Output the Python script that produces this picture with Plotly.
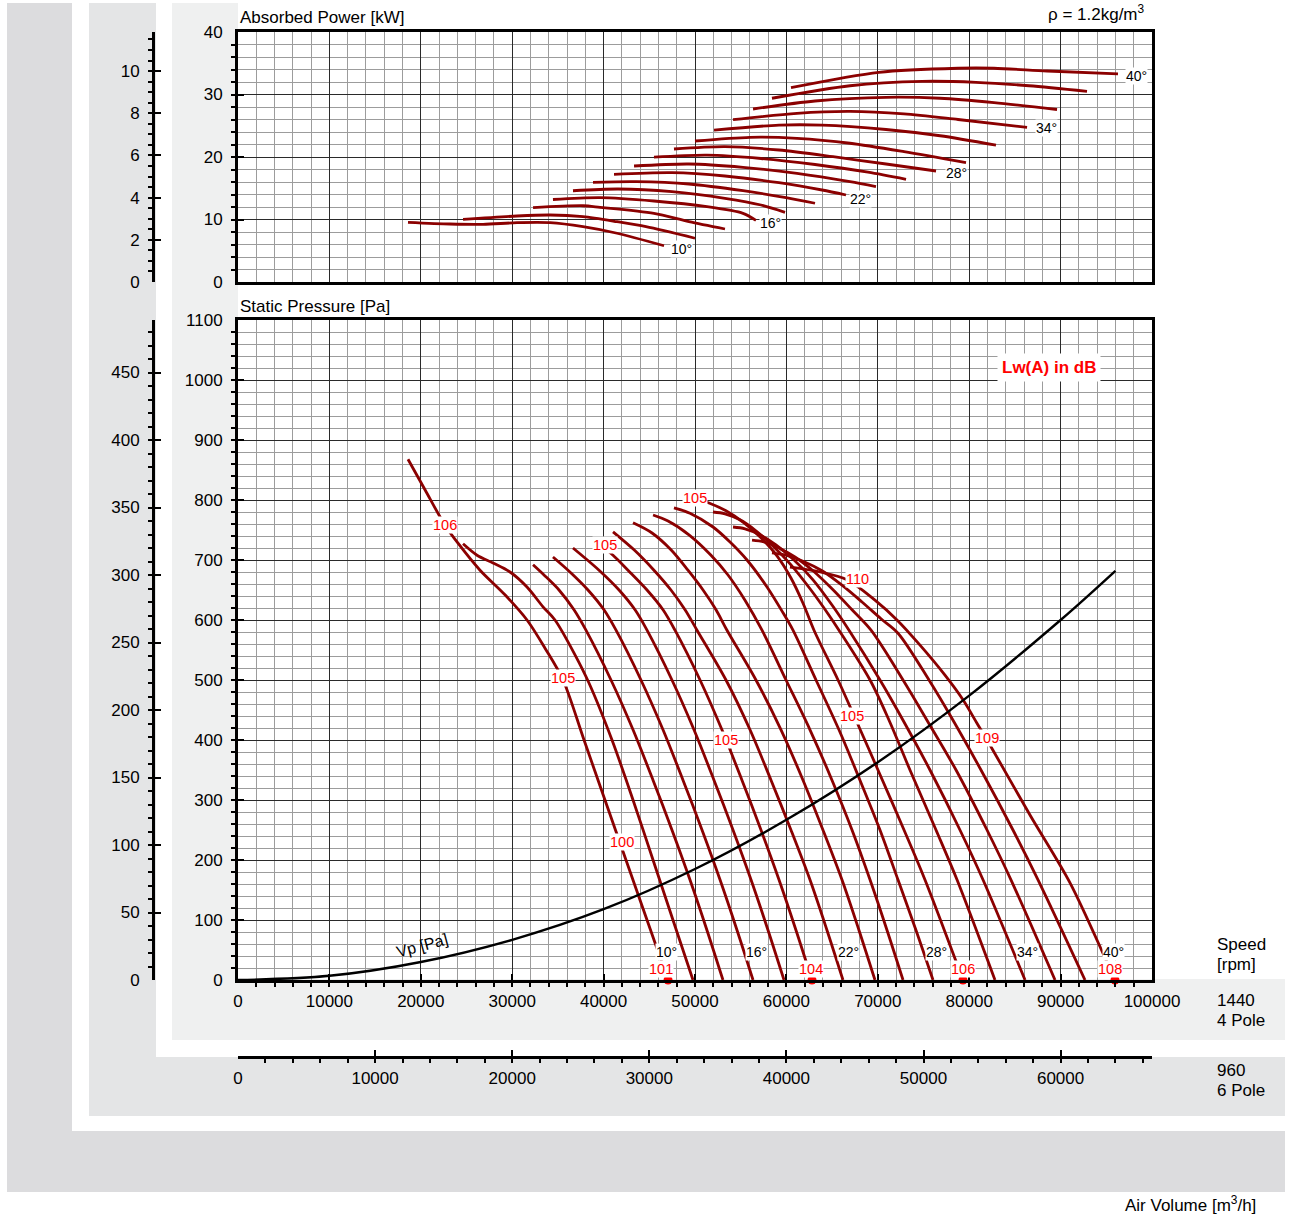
import plotly.graph_objects as go

# ---------------- data ----------------
angles = [10, 12, 14, 16, 18, 20, 22, 24, 26, 28, 30, 32, 34, 36, 38, 40]

# static pressure curves at 1440 rpm: air volume [m3/h], static pressure [Pa]
q10 = [18600, 20460, 22650, 24070, 26480, 29210, 31620, 33590, 35560, 37860, 40150, 42450, 44750, 47050]
p10 = [868, 817, 758, 728, 683, 642, 600, 553, 500, 400, 300, 200, 100, 0]
q12 = [24620, 26150, 27900, 29760, 31620, 33370, 34680, 36870, 38400, 40920, 43220, 45410, 47590, 49780]
p12 = [727, 708, 695, 680, 655, 622, 600, 542, 495, 400, 300, 200, 100, 0]
q14 = [32280, 33480, 35120, 36760, 38070, 40810, 43220, 45410, 47480, 49450, 51310, 53060]
p14 = [692, 675, 650, 617, 583, 500, 417, 333, 250, 167, 83, 0]
q16 = [34460, 36320, 38290, 40040, 41360, 44090, 46500, 48690, 50770, 52740, 54600, 56350]
p16 = [705, 680, 650, 617, 583, 500, 417, 333, 250, 167, 83, 0]
q18 = [36650, 39500, 41690, 43440, 44750, 47480, 49890, 52080, 54160, 56130, 57990, 59740]
p18 = [720, 683, 650, 617, 583, 500, 417, 333, 250, 167, 83, 0]
q20 = [38950, 41030, 42670, 44750, 46500, 47810, 50550, 52950, 55140, 57220, 59190, 61050, 62800]
p20 = [733, 708, 683, 650, 617, 583, 500, 417, 333, 250, 167, 83, 0]
q22 = [41030, 43330, 45510, 47370, 48910, 50220, 53390, 56020, 58320, 60500, 62580, 64440, 66190]
p22 = [747, 717, 683, 650, 617, 583, 500, 417, 333, 250, 167, 83, 0]
q24 = [43220, 45300, 47370, 49230, 50880, 52300, 53500, 56670, 59410, 61820, 64000, 66080, 67940, 69690]
p24 = [762, 745, 717, 683, 650, 617, 583, 500, 417, 333, 250, 167, 83, 0]
q26 = [45410, 47050, 49340, 51750, 53610, 55470, 57330, 59960, 62580, 64990, 67180, 69150, 71010, 72760]
p26 = [775, 765, 742, 708, 675, 633, 583, 500, 417, 333, 250, 167, 83, 0]
q28 = [47700, 49450, 51970, 53830, 55690, 57880, 59630, 60720, 63240, 65750, 68050, 70240, 72210, 74180, 76040]
p28 = [787, 778, 755, 730, 700, 655, 612, 583, 500, 417, 333, 250, 167, 83, 0]
q30 = [50110, 51530, 53390, 55360, 57220, 58970, 60500, 61820, 63020, 65650, 67620, 70020, 72870, 75160, 79320]
p30 = [802, 795, 782, 762, 737, 707, 670, 628, 583, 500, 433, 350, 250, 167, 0]
q32 = [51970, 53280, 54920, 56560, 58420, 60500, 62690, 64660, 65750, 69150, 71230, 73520, 76370, 78670, 82820]
p32 = [780, 777, 767, 750, 725, 692, 650, 608, 583, 500, 433, 350, 250, 167, 0]
q34 = [54160, 55470, 57110, 58860, 60830, 62910, 64990, 66850, 70240, 72760, 75710, 78990, 81510, 86110]
p34 = [755, 752, 742, 725, 700, 667, 625, 583, 500, 433, 350, 250, 167, 0]
q36 = [56240, 57550, 59190, 60940, 62910, 64990, 67180, 69260, 72760, 75380, 78560, 81950, 84570, 89390]
p36 = [733, 730, 720, 705, 682, 652, 617, 583, 500, 433, 350, 250, 167, 0]
q38 = [58420, 59960, 61820, 63900, 66080, 68270, 70350, 72210, 75600, 78230, 81290, 84790, 87530, 92670]
p38 = [712, 708, 698, 682, 658, 630, 602, 578, 500, 433, 350, 250, 167, 0]
q40 = [60390, 63680, 66630, 69690, 72100, 74620, 77350, 79320, 80850, 82600, 86650, 91030, 94860, 95950]
p40 = [688, 680, 667, 633, 600, 558, 508, 467, 428, 383, 275, 162, 37, 0]

# absorbed power curves at 1440 rpm: air volume [m3/h], power [kW]
wq10 = [18600, 23190, 26810, 30530, 34140, 37750, 41470, 46610]
w10 = [9.55, 9.28, 9.23, 9.49, 9.49, 8.85, 7.8, 5.8]
wq12 = [24620, 30530, 34140, 37750, 41470, 44640, 50000]
w12 = [10.03, 10.56, 10.72, 10.45, 9.65, 8.85, 7.0]
wq14 = [32280, 37750, 39610, 45510, 49340, 53280]
w14 = [11.9, 12.2, 11.95, 10.99, 9.65, 8.48]
wq16 = [34460, 39610, 45510, 51310, 55250, 56670]
w16 = [13.2, 13.5, 12.96, 12.05, 10.99, 9.87]
wq18 = [36650, 41580, 47480, 53280, 57220, 59850]
w18 = [14.6, 14.88, 14.45, 13.39, 12.32, 11.15]
wq20 = [38840, 43540, 49340, 55250, 59960, 63130]
w20 = [15.95, 16.05, 15.68, 14.61, 13.49, 12.6]
wq22 = [41140, 47480, 53280, 59190, 63900, 66520]
w22 = [17.23, 17.49, 16.96, 15.89, 14.72, 13.92]
wq24 = [43330, 49340, 55250, 61160, 66960, 69800]
w24 = [18.56, 18.88, 18.35, 17.39, 16.05, 15.25]
wq26 = [45510, 51310, 57220, 63130, 68930, 73090]
w26 = [19.97, 20.29, 19.76, 18.8, 17.57, 16.43]
wq28 = [47700, 53280, 59190, 65100, 70900, 76370]
w28 = [21.28, 21.65, 21.12, 20.05, 18.88, 17.76]
wq30 = [50000, 56020, 61160, 66960, 72870, 79650]
w30 = [22.56, 23.15, 22.99, 22.2, 20.85, 19.1]
wq32 = [52080, 59190, 63900, 70900, 76810, 82930]
w32 = [24.3, 25.1, 25.1, 24.4, 23.4, 21.9]
wq34 = [54160, 61160, 66960, 72870, 78780, 86330]
w34 = [25.97, 26.99, 27.3, 26.9, 26.0, 24.75]
wq36 = [56350, 63130, 70900, 76810, 82710, 89610]
w36 = [27.68, 28.96, 29.55, 29.4, 28.7, 27.6]
wq38 = [58420, 66960, 74840, 80740, 86540, 92890]
w38 = [29.4, 31.4, 32.1, 31.95, 31.4, 30.5]
wq40 = [60500, 70130, 78780, 82710, 88510, 96280]
w40 = [31.1, 33.55, 34.2, 34.2, 33.76, 33.3]

# dynamic pressure curve
vp_q = [0, 10000, 20000, 30000, 40000, 50000, 60000, 70000, 80000, 90000, 96000]
vp_p = [0, 7, 30, 67, 118, 185, 267, 363, 474, 600, 682]

# sound power labels Lw(A) [dB]
db_text = ["106", "105", "100", "101", "105", "105", "105", "104", "105", "110", "106", "109", "108"]
db_q = [22650, 35560, 42010, 46280, 40150, 50000, 53390, 62690, 67180, 67830, 79320, 81950, 95400]
db_p = [758, 503, 230, 18, 725, 803, 400, 18, 440, 668, 18, 403, 18]
dot_q = [47050, 62800, 79320, 95950]
dot_p = [0, 0, 0, 0]

# blade angle labels
ang_text = ["10°", "16°", "22°", "28°", "34°", "40°"]
ang_q_p = [46830, 56780, 66740, 76370, 86330, 95840]
ang_p = [47, 47, 47, 47, 47, 47]
ang_q_w = [48470, 58210, 68160, 78560, 88460, 98330]
ang_w = [5.28, 9.44, 13.28, 17.44, 24.64, 32.96]

# speeds / axis extents
speed_4p = 1440
speed_6p = 960
x_max = 100000
p_max = 1100
w_max = 40

pressure_curves = [(q10, p10), (q12, p12), (q14, p14), (q16, p16), (q18, p18), (q20, p20),
                   (q22, p22), (q24, p24), (q26, p26), (q28, p28), (q30, p30), (q32, p32),
                   (q34, p34), (q36, p36), (q38, p38), (q40, p40)]
power_curves = [(wq10, w10), (wq12, w12), (wq14, w14), (wq16, w16), (wq18, w18), (wq20, w20),
                (wq22, w22), (wq24, w24), (wq26, w26), (wq28, w28), (wq30, w30), (wq32, w32),
                (wq34, w34), (wq36, w36), (wq38, w38), (wq40, w40)]

# ---------------- layout helpers ----------------
W, H = 1291, 1214
def fx(px):
    return px / W
def fy(py):
    return 1 - py / H

FONT = "Liberation Sans, Arial, sans-serif"
RED_LINE = "#8b0000"
ratio = speed_6p / speed_4p
FS = 17

fig = go.Figure()

for q, p in pressure_curves:
    fig.add_trace(go.Scatter(x=q, y=p, mode="lines", xaxis="x", yaxis="y",
                             line=dict(color=RED_LINE, width=2.8, shape="spline", smoothing=0.9),
                             hoverinfo="skip", showlegend=False))
for q, w in power_curves:
    fig.add_trace(go.Scatter(x=q, y=w, mode="lines", xaxis="x2", yaxis="y2",
                             line=dict(color=RED_LINE, width=2.8, shape="spline", smoothing=0.8),
                             hoverinfo="skip", showlegend=False))
fig.add_trace(go.Scatter(x=vp_q, y=vp_p, mode="lines", xaxis="x", yaxis="y",
                         line=dict(color="black", width=2.4, shape="spline"),
                         hoverinfo="skip", showlegend=False))
fig.add_trace(go.Scatter(x=dot_q, y=dot_p, mode="markers", xaxis="x", yaxis="y",
                         marker=dict(color="#ff0000", size=9), cliponaxis=False,
                         hoverinfo="skip", showlegend=False))
# invisible traces so the secondary (960 rpm) axes are rendered
fig.add_trace(go.Scatter(x=[50000], y=[5], xaxis="x2", yaxis="y3", mode="markers",
                         marker=dict(opacity=0), hoverinfo="skip", showlegend=False))
fig.add_trace(go.Scatter(x=[50000], y=[100], xaxis="x", yaxis="y4", mode="markers",
                         marker=dict(opacity=0), hoverinfo="skip", showlegend=False))
fig.add_trace(go.Scatter(x=[30000], y=[100], xaxis="x3", yaxis="y", mode="markers",
                         marker=dict(opacity=0), hoverinfo="skip", showlegend=False))

tickfont = dict(family=FONT, size=FS, color="black")
xdom = [fx(238), fx(1152)]
major_grid = "#2a2a2a"
minor_grid = "#9c9c9c"

fig.update_layout(
    width=W, height=H, autosize=False,
    margin=dict(l=0, r=0, t=0, b=0, pad=0, autoexpand=False),
    paper_bgcolor="white", plot_bgcolor="white",
    font=dict(family=FONT, size=FS, color="black"),
    showlegend=False,
    xaxis=dict(domain=xdom, anchor="y", range=[0, x_max], dtick=10000, tick0=0, tickformat="d",
               automargin=False,
               showgrid=True, gridcolor=major_grid, gridwidth=1, zeroline=False,
               showline=True, linecolor="black", linewidth=3, mirror=True,
               ticks="inside", ticklen=6, tickwidth=2, tickcolor="black", tickfont=tickfont,
               ticklabelstandoff=4,
               minor=dict(dtick=2000, ticks="outside", ticklen=4, tickwidth=2, tickcolor="black",
                          showgrid=True, gridcolor=minor_grid, gridwidth=1)),
    yaxis=dict(domain=[fy(980), fy(320)], anchor="x", range=[0, p_max], dtick=100, tick0=0,
               automargin=False,
               showgrid=True, gridcolor=major_grid, gridwidth=1, zeroline=False,
               showline=True, linecolor="black", linewidth=3, mirror=True,
               ticks="inside", ticklen=6, tickwidth=2, tickcolor="black", tickfont=tickfont,
               ticklabelstandoff=9,
               minor=dict(dtick=20, ticks="outside", ticklen=4, tickwidth=2, tickcolor="black",
                          showgrid=True, gridcolor=minor_grid, gridwidth=1)),
    xaxis2=dict(domain=xdom, anchor="y2", range=[0, x_max], dtick=10000, tick0=0,
                automargin=False, showticklabels=False, ticks="",
                showgrid=True, gridcolor=major_grid, gridwidth=1, zeroline=False,
                showline=True, linecolor="black", linewidth=3, mirror=True,
                minor=dict(dtick=2000, showgrid=True, gridcolor=minor_grid, gridwidth=1)),
    yaxis2=dict(domain=[fy(282), fy(32)], anchor="x2", range=[0, w_max], dtick=10, tick0=0,
                automargin=False,
                showgrid=True, gridcolor=major_grid, gridwidth=1, zeroline=False,
                showline=True, linecolor="black", linewidth=3, mirror=True,
                ticks="inside", ticklen=6, tickwidth=2, tickcolor="black", tickfont=tickfont,
                ticklabelstandoff=9,
                minor=dict(dtick=2, ticks="outside", ticklen=4, tickwidth=2, tickcolor="black",
                           showgrid=True, gridcolor=minor_grid, gridwidth=1)),
    yaxis3=dict(overlaying="y2", anchor="free", position=fx(153), side="left",
                automargin=False,
                range=[0, w_max * ratio ** 3], dtick=2, tick0=0, showgrid=False, zeroline=False,
                showline=True, linecolor="black", linewidth=3,
                ticks="inside", ticklen=6, tickwidth=2, tickcolor="black", tickfont=tickfont,
                ticklabelstandoff=9,
                minor=dict(dtick=0.5, ticks="outside", ticklen=4, tickwidth=2, tickcolor="black",
                           showgrid=False)),
    yaxis4=dict(overlaying="y", anchor="free", position=fx(153), side="left",
                automargin=False,
                range=[0, p_max * ratio ** 2], dtick=50, tick0=0, showgrid=False, zeroline=False,
                showline=True, linecolor="black", linewidth=3,
                ticks="inside", ticklen=6, tickwidth=2, tickcolor="black", tickfont=tickfont,
                ticklabelstandoff=9,
                minor=dict(dtick=10, ticks="outside", ticklen=4, tickwidth=2, tickcolor="black",
                           showgrid=False)),
    xaxis3=dict(overlaying="x", anchor="free", position=fy(1057), side="bottom",
                automargin=False,
                range=[0, x_max * ratio], dtick=10000, tick0=0, tickformat="d",
                showgrid=False, zeroline=False,
                showline=True, linecolor="black", linewidth=3,
                ticks="inside", ticklen=6, tickwidth=2, tickcolor="black", tickfont=tickfont,
                ticklabelstandoff=5,
                minor=dict(dtick=2000, ticks="outside", ticklen=4, tickwidth=2, tickcolor="black",
                           showgrid=False)),
)

# ---------------- background panels ----------------
def rect(x0, y0, x1, y1, color):
    return dict(type="rect", xref="paper", yref="paper", layer="below",
                x0=fx(x0), x1=fx(x1), y0=fy(y1), y1=fy(y0),
                fillcolor=color, line=dict(width=0))

fig.update_layout(shapes=[
    rect(7, 3, 1285, 1192, "#dcdcde"),
    rect(72, 0, 1291, 1131, "white"),
    rect(89, 3, 1285, 1116, "#e4e5e6"),
    rect(156, 0, 1291, 1057, "white"),
    rect(172, 3, 1285, 1040, "#eff0f0"),
    rect(238, 0, 1291, 979, "white"),
])

ann = []
def ptext(px, py_, text, xanchor="left", size=FS, color="black", **kw):
    ann.append(dict(xref="paper", yref="paper", x=fx(px), y=fy(py_), text=text, showarrow=False,
                    xanchor=xanchor, yanchor="middle", align="left",
                    font=dict(family=FONT, size=size, color=color), **kw))

ptext(238, 18, "Absorbed Power [kW]")
ptext(1147, 13, "ρ = 1.2kg/m<sup>3</sup>", xanchor="right")
ptext(238, 306, "Static Pressure [Pa]")
ptext(1049, 367, "<b>Lw(A) in dB</b>", xanchor="center", color="#ff0000",
      bgcolor="white", borderpad=4)
ptext(1215, 944, "Speed")
ptext(1215, 964, "[rpm]")
ptext(1215, 1000, "1440")
ptext(1215, 1020, "4 Pole")
ptext(1215, 1070, "960")
ptext(1215, 1090, "6 Pole")
ptext(1258, 1204, "Air Volume [m<sup>3</sup>/h]", xanchor="right")

for t, q, p in zip(db_text, db_q, db_p):
    ann.append(dict(xref="x", yref="y", x=q, y=p, text=t, showarrow=False,
                    font=dict(family=FONT, size=14.5, color="#ff0000"),
                    bgcolor="white", borderpad=0))
for t, q, p in zip(ang_text, ang_q_p, ang_p):
    ann.append(dict(xref="x", yref="y", x=q, y=p, text=t, showarrow=False,
                    font=dict(family=FONT, size=14, color="black"),
                    bgcolor="white", borderpad=0))
for t, q, w in zip(ang_text, ang_q_w, ang_w):
    ann.append(dict(xref="x2", yref="y2", x=q, y=w, text=t, showarrow=False,
                    font=dict(family=FONT, size=14, color="black"),
                    bgcolor="white", borderpad=0))
ann.append(dict(xref="x", yref="y", x=20130, y=57, text="Vp [Pa]", showarrow=False,
                textangle=-15, font=dict(family=FONT, size=16, color="black")))

fig.update_layout(annotations=ann)

fig.write_html(
    "out.html",
    config={"displayModeBar": False, "staticPlot": True},
    post_script="document.body.style.margin='0';document.body.style.padding='0';"
                "document.documentElement.style.overflow='hidden';",
)
